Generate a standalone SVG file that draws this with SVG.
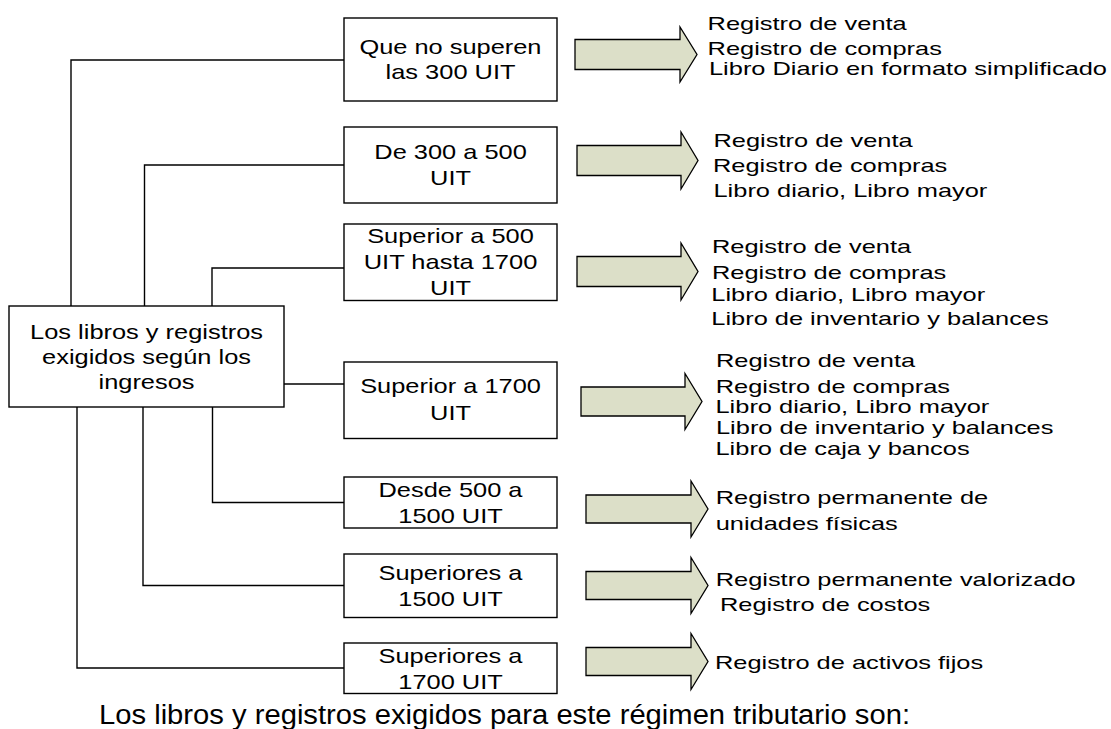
<svg xmlns="http://www.w3.org/2000/svg" width="1111" height="729" viewBox="0 0 1111 729">
<style>
.box{fill:#ffffff;stroke:#000000;stroke-width:1.4}
.conn{fill:none;stroke:#000000;stroke-width:1.4}
.arrow{fill:#dcdfc8;stroke:#000000;stroke-width:1.3;stroke-linejoin:miter}
.bt{font-family:"Liberation Sans",Arial,sans-serif;font-size:21px;fill:#000}
.lt{font-family:"Liberation Sans",Arial,sans-serif;font-size:19px;fill:#000}
.cap{font-family:"Liberation Sans",Arial,sans-serif;font-size:27px;fill:#000}
</style>
<rect width="1111" height="729" fill="#ffffff"/>
<g id="connectors">
<path class="conn" d="M71,306 V60 H344"/>
<path class="conn" d="M144.5,306 V165 H344"/>
<path class="conn" d="M212,306 V268 H344"/>
<path class="conn" d="M284,384 H344"/>
<path class="conn" d="M212.5,407 V502.5 H344"/>
<path class="conn" d="M143,407 V585.5 H344"/>
<path class="conn" d="M77,407 V668 H344"/>
</g>
<g id="main">
<rect class="box" x="9" y="306" width="275" height="101"/>
<text class="bt" x="30.1" y="338.5" textLength="232.9" lengthAdjust="spacingAndGlyphs">Los libros y registros</text>
<text class="bt" x="42.1" y="363.5" textLength="208.9" lengthAdjust="spacingAndGlyphs">exigidos según los</text>
<text class="bt" x="98.5" y="388.5" textLength="96" lengthAdjust="spacingAndGlyphs">ingresos</text>
</g>
<g id="n1">
<rect class="box" x="344" y="18" width="213" height="83"/>
<text class="bt" x="359.4" y="53.8" textLength="182.1" lengthAdjust="spacingAndGlyphs">Que no superen</text>
<text class="bt" x="385.6" y="78.5" textLength="129.9" lengthAdjust="spacingAndGlyphs">las 300 UIT</text>
</g>
<g id="n2">
<rect class="box" x="344" y="127" width="213" height="76"/>
<text class="bt" x="374.3" y="159.3" textLength="152.5" lengthAdjust="spacingAndGlyphs">De 300 a 500</text>
<text class="bt" x="430.1" y="185" textLength="40.9" lengthAdjust="spacingAndGlyphs">UIT</text>
</g>
<g id="n3">
<rect class="box" x="344" y="224" width="213" height="76.5"/>
<text class="bt" x="367.2" y="242.7" textLength="166.6" lengthAdjust="spacingAndGlyphs">Superior a 500</text>
<text class="bt" x="363.7" y="269.3" textLength="173.7" lengthAdjust="spacingAndGlyphs">UIT hasta 1700</text>
<text class="bt" x="430.1" y="295" textLength="40.9" lengthAdjust="spacingAndGlyphs">UIT</text>
</g>
<g id="n4">
<rect class="box" x="344" y="362" width="213" height="76.5"/>
<text class="bt" x="360.2" y="393.3" textLength="180.7" lengthAdjust="spacingAndGlyphs">Superior a 1700</text>
<text class="bt" x="430.1" y="420" textLength="40.9" lengthAdjust="spacingAndGlyphs">UIT</text>
</g>
<g id="n5">
<rect class="box" x="344" y="477" width="213" height="51"/>
<text class="bt" x="378.5" y="497.3" textLength="144" lengthAdjust="spacingAndGlyphs">Desde 500 a</text>
<text class="bt" x="398.3" y="522.7" textLength="104.5" lengthAdjust="spacingAndGlyphs">1500 UIT</text>
</g>
<g id="n6">
<rect class="box" x="344" y="554" width="213" height="63.5"/>
<text class="bt" x="378.5" y="580" textLength="144" lengthAdjust="spacingAndGlyphs">Superiores a</text>
<text class="bt" x="398.3" y="606" textLength="104.5" lengthAdjust="spacingAndGlyphs">1500 UIT</text>
</g>
<g id="n7">
<rect class="box" x="344" y="643" width="213" height="50.5"/>
<text class="bt" x="378.5" y="663.3" textLength="144" lengthAdjust="spacingAndGlyphs">Superiores a</text>
<text class="bt" x="398.3" y="689.3" textLength="104.5" lengthAdjust="spacingAndGlyphs">1700 UIT</text>
</g>
<g id="arrows">
<path class="arrow" d="M575,39.5 H680 V27 L697,54.5 L680,82 V69.5 H575 Z"/>
<path class="arrow" d="M577,145.5 H681 V132 L698,160.5 L681,189 V175.5 H577 Z"/>
<path class="arrow" d="M577,256.5 H681 V243 L698,271.5 L681,300 V286.5 H577 Z"/>
<path class="arrow" d="M581,387 H685 V373.5 L702,401.5 L685,429.5 V416 H581 Z"/>
<path class="arrow" d="M586,495 H691 V481 L708,509 L691,537 V523 H586 Z"/>
<path class="arrow" d="M586,571.5 H691 V557.5 L708,585.5 L691,613.5 V599.5 H586 Z"/>
<path class="arrow" d="M586,647.5 H691 V633.5 L708,661.5 L691,689.5 V675.5 H586 Z"/>
</g>
<g id="list1">
<text class="lt" x="707.6" y="30" textLength="199.1" lengthAdjust="spacingAndGlyphs">Registro de venta</text>
<text class="lt" x="707.6" y="54.5" textLength="234.3" lengthAdjust="spacingAndGlyphs">Registro de compras</text>
<text class="lt" x="709" y="75" textLength="398" lengthAdjust="spacingAndGlyphs">Libro Diario en formato simplificado</text>
</g>
<g id="list2">
<text class="lt" x="713.5" y="146.7" textLength="199.1" lengthAdjust="spacingAndGlyphs">Registro de venta</text>
<text class="lt" x="713" y="171.7" textLength="234.3" lengthAdjust="spacingAndGlyphs">Registro de compras</text>
<text class="lt" x="713.5" y="197.3" textLength="273.8" lengthAdjust="spacingAndGlyphs">Libro diario, Libro mayor</text>
</g>
<g id="list3">
<text class="lt" x="712" y="253.3" textLength="199.1" lengthAdjust="spacingAndGlyphs">Registro de venta</text>
<text class="lt" x="712" y="279.3" textLength="234.3" lengthAdjust="spacingAndGlyphs">Registro de compras</text>
<text class="lt" x="711.3" y="301" textLength="273.8" lengthAdjust="spacingAndGlyphs">Libro diario, Libro mayor</text>
<text class="lt" x="711.3" y="325" textLength="337.4" lengthAdjust="spacingAndGlyphs">Libro de inventario y balances</text>
</g>
<g id="list4">
<text class="lt" x="716" y="367" textLength="199.1" lengthAdjust="spacingAndGlyphs">Registro de venta</text>
<text class="lt" x="715.7" y="392.5" textLength="234.3" lengthAdjust="spacingAndGlyphs">Registro de compras</text>
<text class="lt" x="715.5" y="413" textLength="273.8" lengthAdjust="spacingAndGlyphs">Libro diario, Libro mayor</text>
<text class="lt" x="716" y="434" textLength="337.4" lengthAdjust="spacingAndGlyphs">Libro de inventario y balances</text>
<text class="lt" x="715.5" y="455" textLength="254.1" lengthAdjust="spacingAndGlyphs">Libro de caja y bancos</text>
</g>
<g id="list5">
<text class="lt" x="715.7" y="504" textLength="272.5" lengthAdjust="spacingAndGlyphs">Registro permanente de</text>
<text class="lt" x="715.7" y="530" textLength="182.1" lengthAdjust="spacingAndGlyphs">unidades físicas</text>
</g>
<g id="list6">
<text class="lt" x="715.7" y="586" textLength="360" lengthAdjust="spacingAndGlyphs">Registro permanente valorizado</text>
<text class="lt" x="720" y="610.7" textLength="210.3" lengthAdjust="spacingAndGlyphs">Registro de costos</text>
</g>
<g id="list7">
<text class="lt" x="715" y="669.3" textLength="268.2" lengthAdjust="spacingAndGlyphs">Registro de activos fijos</text>
</g>
<text class="cap" x="99" y="723.5" textLength="811" lengthAdjust="spacingAndGlyphs">Los libros y registros exigidos para este régimen tributario son:</text>
</svg>
